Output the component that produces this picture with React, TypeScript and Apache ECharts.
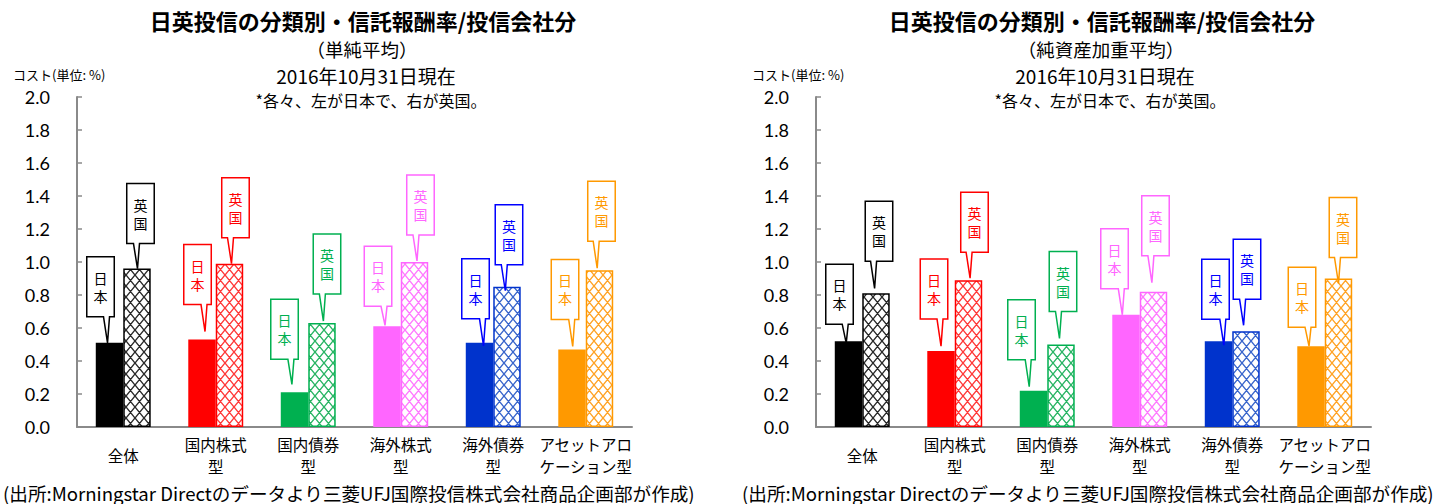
import React, { useEffect, useRef } from 'react';
import * as echarts from 'echarts';

// ---------- data ----------
const CATEGORIES = ['全体', '国内株式\n型', '国内債券\n型', '海外株式\n型', '海外債券\n型', 'アセットアロ\nケーション型'];
const LEFT_JAPAN = [0.51, 0.53, 0.21, 0.61, 0.51, 0.47];
const LEFT_UK = [0.96, 0.99, 0.63, 1.0, 0.85, 0.95];
const RIGHT_JAPAN = [0.52, 0.46, 0.22, 0.68, 0.52, 0.49];
const RIGHT_UK = [0.81, 0.89, 0.5, 0.82, 0.58, 0.9];
const Y_MIN = 0;
const Y_MAX = 2;
const Y_STEP = 0.2;

const LEFT_SUBTITLE = '（単純平均）';
const RIGHT_SUBTITLE = '（純資産加重平均）';
const TITLE = '日英投信の分類別・信託報酬率/投信会社分';
const DATE_TEXT = '2016年10月31日現在';
const NOTE_TEXT = '*各々、左が日本で、右が英国。';
const UNIT_TEXT = 'コスト(単位: %)';
const SOURCE_TEXT = '(出所:Morningstar Directのデータより三菱UFJ国際投信株式会社商品企画部が作成)';
const JP_LABEL = '日\n本';
const UK_LABEL = '英\n国';

// ---------- styles ----------
const SOLID_COLORS = ['#000000', '#FF0000', '#00B050', '#FF66FF', '#0033CC', '#FF9900'];
const LINE_COLORS = ['#000000', '#FF0000', '#00B050', '#FF66FF', '#0000FF', '#FF9900'];
const HATCH_COLORS = ['#2a2a2a', '#FF3a3a', '#2ab565', '#FF7aFF', '#3a66CC', '#FFA326'];
const UK_BORDER = ['#000000', '#FF0000', '#00B050', '#FF66FF', '#0033CC', '#FF9900'];

// callout layout per bar: [boxDx, tipDx, tipGap, pointerLen] (pixels)
const LEFT_JP_CALLOUT = [[-9, -2, 0, 26], [-4.5, 3, 8, 27], [-10, -2.6, 8, 25], [-9, -2, 1, 19], [-4, 4, -3, 27], [-7, 0.7, 3, 27]];
const LEFT_UK_CALLOUT = [[3.5, 0.5, 0, 25], [6, 2, 0, 26], [5, 1.4, 2, 27], [6, 2.5, 1, 26], [2, -1.7, -4, 26], [2, -2.3, 2, 27]];
const RIGHT_JP_CALLOUT = [[-9, -2.3, -2, 19], [-7, 0, 5, 27], [-12, -4.3, 4, 27], [-11.5, -3.7, 0, 26], [-3, 5.3, -4, 26], [-9, -2, 0, 19]];
const RIGHT_UK_CALLOUT = [[3, -1.4, 5, 27], [6, 1.6, 2, 26], [2, -1.5, 6, 27], [2, -1.6, 9, 27], [1, -2.4, 6, 26], [4.5, 0, -5, 26]];

const CJK = '"Noto Sans CJK JP", sans-serif';
const NUM_FONT = 'Lato, "Open Sans", sans-serif';
const AXIS_GRAY = '#8a8a8a';
const BAR_RATIO = 0.297;
const BOX_W = 27.5;
const BOX_H = 60;

function hatch(color: string) {
  const w = 9;
  const h = 11;
  const c = document.createElement('canvas');
  c.width = w;
  c.height = h;
  const ctx = c.getContext('2d') as CanvasRenderingContext2D;
  ctx.fillStyle = '#ffffff';
  ctx.fillRect(0, 0, w, h);
  ctx.strokeStyle = color;
  ctx.lineWidth = 1.4;
  ctx.beginPath();
  for (const ox of [-w, 0, w]) {
    for (const oy of [-h, 0, h]) {
      ctx.moveTo(ox, oy);
      ctx.lineTo(ox + w, oy + h);
      ctx.moveTo(ox + w, oy);
      ctx.lineTo(ox, oy + h);
    }
  }
  ctx.stroke();
  return { image: c, repeat: 'repeat', imageWidth: w, imageHeight: h };
}

function calloutSeries(gridIdx: number, values: number[], side: number, layout: number[][], label: string) {
  return {
    type: 'custom',
    xAxisIndex: gridIdx,
    yAxisIndex: gridIdx,
    z: 10,
    clip: false,
    silent: true,
    data: values.map((v, i) => [i, v]),
    renderItem: (params: any, api: any) => {
      const i = params.dataIndex;
      const pt = api.coord([api.value(0), api.value(1)]);
      const band = api.size([1, 0])[0];
      const bw = band * BAR_RATIO;
      const barCx = pt[0] + (side === 0 ? -bw / 2 : bw / 2);
      const [boxDx, tipDx, tipGap, ptrLen] = layout[i];
      const tipX = barCx + tipDx;
      const tipY = pt[1] - tipGap;
      const B = tipY - ptrLen;
      const T = B - BOX_H;
      const cx = barCx + boxDx;
      const L = cx - BOX_W / 2;
      const R = cx + BOX_W / 2;
      let b1 = tipX - 4;
      let b2 = tipX + 2;
      if (b2 > R - 1) { b2 = R - 1; b1 = b2 - 6; }
      if (b1 < L + 1) { b1 = L + 1; b2 = b1 + 6; }
      const color = LINE_COLORS[i];
      return {
        type: 'group',
        children: [
          {
            type: 'polygon',
            shape: { points: [[L, T], [R, T], [R, B], [b2, B], [tipX, tipY], [b1, B], [L, B]] },
            style: { fill: '#ffffff', stroke: color, lineWidth: 1.5 },
          },
          {
            type: 'text',
            x: cx,
            y: (T + B) / 2,
            style: {
              text: label,
              fill: color,
              font: `14px ${CJK}`,
              lineHeight: 18,
              align: 'center',
              verticalAlign: 'middle',
            },
          },
        ],
      };
    },
  };
}

function barSeries(gridIdx: number, jp: number[], uk: number[]) {
  return [
    {
      type: 'bar',
      xAxisIndex: gridIdx,
      yAxisIndex: gridIdx,
      barWidth: `${BAR_RATIO * 100}%`,
      barGap: '0%',
      data: jp.map((v, i) => ({ value: v, itemStyle: { color: SOLID_COLORS[i] } })),
    },
    {
      type: 'bar',
      xAxisIndex: gridIdx,
      yAxisIndex: gridIdx,
      barWidth: `${BAR_RATIO * 100}%`,
      barGap: '0%',
      data: uk.map((v, i) => ({
        value: v,
        itemStyle: { color: hatch(HATCH_COLORS[i]), borderColor: UK_BORDER[i], borderWidth: 1.5 },
      })),
    },
  ];
}

function texts(offset: number, subtitle: string) {
  return [
    { type: 'text', x: 363 + offset, y: 19.5, style: { text: TITLE, font: `bold 22px ${CJK}`, fill: '#000', align: 'center', verticalAlign: 'middle' } },
    { type: 'text', x: 362 + offset, y: 48.5, style: { text: subtitle, font: `18.5px ${CJK}`, fill: '#000', align: 'center', verticalAlign: 'middle' } },
    { type: 'text', x: 366 + offset, y: 75, style: { text: DATE_TEXT, font: `19px ${CJK}`, fill: '#000', align: 'center', verticalAlign: 'middle' } },
    { type: 'text', x: 371 + offset, y: 100, style: { text: NOTE_TEXT, font: `16px ${CJK}`, fill: '#000', align: 'center', verticalAlign: 'middle' } },
    { type: 'text', x: 13 + offset, y: 74, style: { text: UNIT_TEXT, font: `13px ${CJK}`, fill: '#000', align: 'left', verticalAlign: 'middle' } },
    { type: 'text', x: 3 + offset, y: 492, style: { text: SOURCE_TEXT, font: `18.6px ${CJK}`, fill: '#000', align: 'left', verticalAlign: 'middle' } },
  ];
}

export default function App() {
  const ref = useRef<HTMLDivElement>(null);
  useEffect(() => {
    if (!ref.current) return;
    const chart = echarts.init(ref.current, undefined, { renderer: 'svg' });
    const grids = [
      { left: 77, top: 97, width: 555, height: 330 },
      { left: 816, top: 97, width: 555, height: 330 },
    ];
    const option: any = {
      animation: false,
      backgroundColor: '#ffffff',
      grid: grids,
      xAxis: [0, 1].map((g) => ({
        gridIndex: g,
        type: 'category',
        data: CATEGORIES,
        axisLine: { lineStyle: { color: AXIS_GRAY, width: 2 } },
        axisTick: { inside: true, length: 5, lineStyle: { color: AXIS_GRAY, width: 1.5 } },
        axisLabel: {
          interval: 0,
          color: '#000',
          fontSize: 15.5,
          lineHeight: 22,
          fontFamily: CJK,
          margin: 28,
          verticalAlign: 'middle',
        },
        splitLine: { show: false },
      })),
      yAxis: [0, 1].map((g) => ({
        gridIndex: g,
        type: 'value',
        min: Y_MIN,
        max: Y_MAX,
        interval: Y_STEP,
        axisLine: { show: true, lineStyle: { color: AXIS_GRAY, width: 2 } },
        axisTick: { show: true, inside: true, length: 5, lineStyle: { color: AXIS_GRAY, width: 1.5 } },
        splitLine: { show: false },
        axisLabel: {
          color: '#000',
          fontSize: 18,
          fontFamily: NUM_FONT,
          margin: 27,
          formatter: (v: number) => v.toFixed(1),
        },
      })),
      series: [
        ...barSeries(0, LEFT_JAPAN, LEFT_UK),
        ...barSeries(1, RIGHT_JAPAN, RIGHT_UK),
        calloutSeries(0, LEFT_JAPAN, 0, LEFT_JP_CALLOUT, JP_LABEL),
        calloutSeries(0, LEFT_UK, 1, LEFT_UK_CALLOUT, UK_LABEL),
        calloutSeries(1, RIGHT_JAPAN, 0, RIGHT_JP_CALLOUT, JP_LABEL),
        calloutSeries(1, RIGHT_UK, 1, RIGHT_UK_CALLOUT, UK_LABEL),
      ],
      graphic: [...texts(0, LEFT_SUBTITLE), ...texts(739, RIGHT_SUBTITLE)],
    };
    chart.setOption(option);
    return () => chart.dispose();
  }, []);
  return <div ref={ref} style={{ position: 'fixed', left: 0, top: 0, width: 1442, height: 504 }} />;
}
